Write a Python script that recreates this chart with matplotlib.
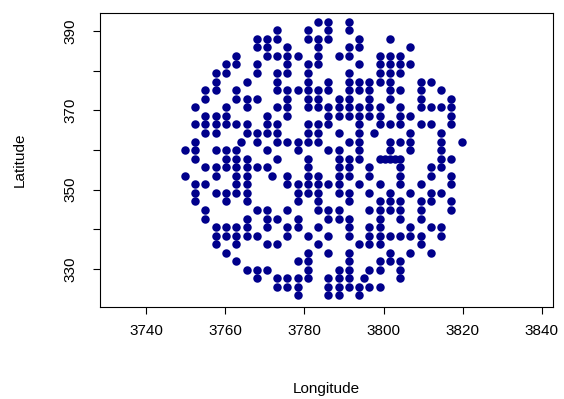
import numpy as np
import matplotlib
matplotlib.use("Agg")
import matplotlib.pyplot as plt

# latitude of each row of grid points (top to bottom)
row_lat = [392.3, 390.2, 388.0, 385.9, 383.7, 381.6, 379.4, 377.2, 375.1, 372.9,
           370.8, 368.6, 366.4, 364.3, 362.1, 360.0, 357.8, 355.7, 353.5, 351.3,
           349.2, 347.0, 344.9, 342.7, 340.6, 338.4, 336.2, 334.1, 331.9, 329.8,
           327.6, 325.4, 323.3]

# longitudes of the points found on each row
row_lon = [
    [3783.5, 3786.1, 3791.3],
    [3773.1, 3780.9, 3786.1, 3791.3],
    [3768.0, 3770.6, 3773.1, 3780.9, 3783.5, 3786.1, 3793.9, 3801.6],
    [3768.0, 3770.6, 3775.7, 3783.5, 3791.3, 3793.9, 3806.8],
    [3762.8, 3770.6, 3773.1, 3775.7, 3778.3, 3783.5, 3788.7, 3791.3, 3799.0,
     3801.6, 3804.2],
    [3760.2, 3762.8, 3768.0, 3775.7, 3780.9, 3783.5, 3793.9, 3799.0, 3801.6,
     3804.2, 3806.8],
    [3757.6, 3760.2, 3768.0, 3773.1, 3775.7, 3780.9, 3791.3, 3799.0, 3801.6,
     3804.2],
    [3757.6, 3765.4, 3773.1, 3780.9, 3786.1, 3791.3, 3793.9, 3796.4, 3799.0,
     3801.6, 3809.4, 3812.0],
    [3755.0, 3757.6, 3762.8, 3773.1, 3775.7, 3778.3, 3780.9, 3783.5, 3786.1,
     3791.3, 3793.9, 3796.4, 3801.6, 3804.2, 3809.4, 3814.6],
    [3755.0, 3762.8, 3765.4, 3768.0, 3775.7, 3780.9, 3783.5, 3788.7, 3791.3,
     3796.4, 3801.6, 3809.4, 3817.1],
    [3752.4, 3760.2, 3765.4, 3773.1, 3775.7, 3780.9, 3783.5, 3786.1, 3788.7,
     3791.3, 3793.9, 3796.4, 3799.0, 3804.2, 3809.4, 3812.0, 3814.6, 3817.1],
    [3755.0, 3757.6, 3760.2, 3770.6, 3775.7, 3786.1, 3788.7, 3791.3, 3793.9,
     3796.4, 3799.0, 3804.2, 3806.8, 3817.1],
    [3752.4, 3755.0, 3757.6, 3760.2, 3762.8, 3765.4, 3770.6, 3773.1, 3780.9,
     3783.5, 3786.1, 3793.9, 3799.0, 3801.6, 3804.2, 3809.4, 3812.0, 3817.1],
    [3755.0, 3757.6, 3765.4, 3768.0, 3770.6, 3773.1, 3780.9, 3783.5, 3788.7,
     3793.9, 3797.5, 3806.8, 3814.6],
    [3752.4, 3764.1, 3768.0, 3773.1, 3775.7, 3778.3, 3780.9, 3783.5, 3791.3,
     3793.9, 3801.6, 3804.2, 3806.8, 3814.6, 3819.7],
    [3749.8, 3752.4, 3757.6, 3760.2, 3762.8, 3770.6, 3778.3, 3786.1, 3788.7,
     3793.9, 3801.6, 3806.8, 3814.6],
    [3752.4, 3760.2, 3762.8, 3765.4, 3773.1, 3780.9, 3788.7, 3791.3, 3793.9,
     3799.0, 3800.3, 3801.6, 3802.9, 3804.2, 3814.6, 3817.1],
    [3755.0, 3757.6, 3760.2, 3762.8, 3765.4, 3768.0, 3770.6, 3780.9, 3788.7,
     3791.3, 3796.4, 3804.2, 3812.0, 3814.6],
    [3749.8, 3757.6, 3762.8, 3765.4, 3771.9, 3775.7, 3780.9, 3783.5, 3788.7,
     3791.3, 3796.4, 3804.2, 3812.0, 3817.1],
    [3752.4, 3755.0, 3762.8, 3765.4, 3775.7, 3778.3, 3780.9, 3783.5, 3786.1,
     3788.7, 3793.9, 3799.0, 3804.2, 3809.4, 3817.1],
    [3752.4, 3757.6, 3760.2, 3762.8, 3765.4, 3778.3, 3780.9, 3783.5, 3788.7,
     3791.3, 3796.4, 3801.6, 3806.8, 3812.0, 3814.6],
    [3752.4, 3760.2, 3765.4, 3778.3, 3783.5, 3791.3, 3799.0, 3801.6, 3804.2,
     3809.4, 3812.0, 3817.1],
    [3755.0, 3768.0, 3770.6, 3775.7, 3783.5, 3786.1, 3788.7, 3796.4, 3799.0,
     3801.6, 3804.2, 3809.4, 3817.1],
    [3755.0, 3765.4, 3770.6, 3773.1, 3778.3, 3786.1, 3788.7, 3791.3, 3799.0,
     3804.2, 3809.4],
    [3757.6, 3760.2, 3762.8, 3765.4, 3770.6, 3775.7, 3778.3, 3783.5, 3791.3,
     3796.4, 3799.0, 3806.8, 3812.0, 3814.6],
    [3757.6, 3760.2, 3762.8, 3765.4, 3768.0, 3775.7, 3780.9, 3786.1, 3791.3,
     3796.4, 3799.0, 3801.6, 3804.2, 3806.8, 3809.4, 3814.6],
    [3757.6, 3762.8, 3770.6, 3773.1, 3783.5, 3793.9, 3796.4, 3799.0, 3809.4],
    [3760.2, 3780.9, 3786.1, 3791.3, 3801.6, 3806.8, 3812.0],
    [3762.8, 3778.3, 3780.9, 3791.3, 3799.0, 3801.6, 3804.2],
    [3765.4, 3768.0, 3770.6, 3780.9, 3788.7, 3791.3, 3796.4, 3799.0, 3804.2],
    [3768.0, 3773.1, 3775.7, 3778.3, 3780.9, 3786.1, 3788.7, 3791.3, 3795.1,
     3804.2],
    [3773.1, 3775.7, 3778.3, 3786.1, 3788.7, 3791.3, 3793.9, 3796.4, 3799.0],
    [3778.3, 3786.1, 3788.7, 3793.9],
]

lon = np.concatenate([np.array(r) for r in row_lon])
lat = np.concatenate([np.full(len(r), y) for r, y in zip(row_lon, row_lat)])

x_ticks = [3740, 3760, 3780, 3800, 3820, 3840]
y_ticks = [330, 340, 350, 360, 370, 380, 390]
y_labels = ["330", "", "350", "", "370", "", "390"]

plt.rcParams['font.family'] = ['Liberation Sans', 'DejaVu Sans']

fig = plt.figure(figsize=(5.64, 3.99), dpi=100)
ax = fig.add_axes([100 / 564, 1 - 307 / 399, 453 / 564, 294 / 399])

ax.plot(lon, lat, 'o', color='#00008B', markersize=6.1, markeredgewidth=0)

ax.set_xlim(3728.4, 3842.8)
ax.set_ylim(320.4, 394.5)
ax.set_xticks(x_ticks)
ax.set_yticks(y_ticks)
ax.set_yticklabels(y_labels, rotation=90, va='center')
ax.tick_params(direction='out', length=5, width=0.8, labelsize=11, pad=7)
ax.tick_params(axis='y', pad=11)
for s in ax.spines.values():
    s.set_linewidth(0.8)

ax.set_xlabel('Longitude', fontsize=11, labelpad=32)
ax.set_ylabel('Latitude', fontsize=11, labelpad=27)

fig.savefig('out.png', dpi=100)
